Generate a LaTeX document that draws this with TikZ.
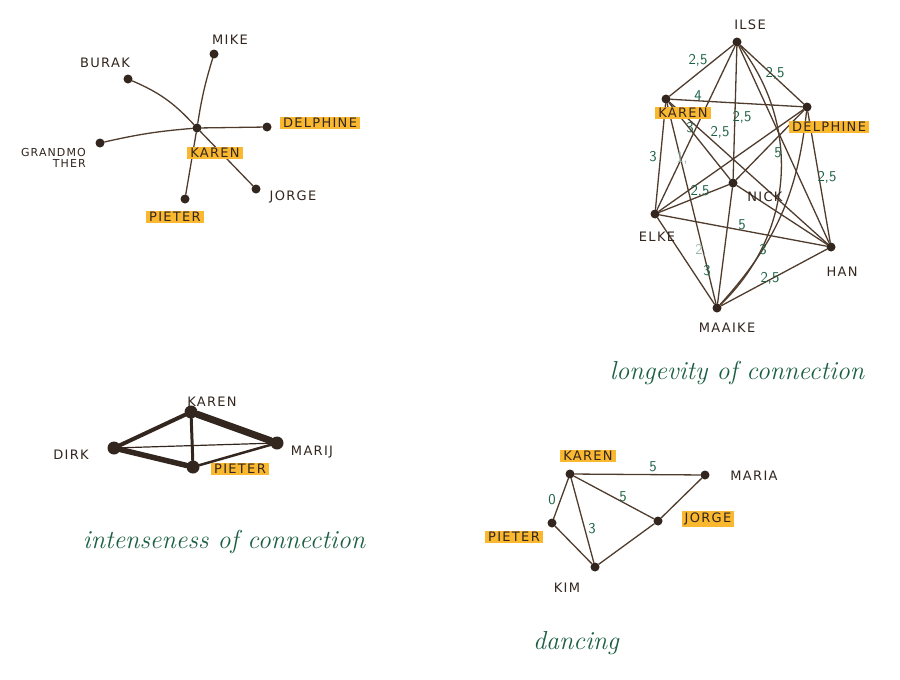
\documentclass[tikz,border=0pt]{standalone}
\usepackage{fontspec}
\usepackage{xcolor}
\usepackage{tikz}
\newfontfamily\namefont[LetterSpace=10]{DejaVu Sans}
\definecolor{ink}{RGB}{50,38,30}
\definecolor{penbrown}{RGB}{80,60,45}
\definecolor{inkgreen}{RGB}{28,96,68}
\definecolor{marker}{RGB}{250,184,48}

\begin{document}
\begin{tikzpicture}[x = 1pt, y = -1pt,
		dot/.style = {circle, fill = ink, inner sep = 0pt, minimum size = 9pt},
		bigdot/.style = {circle, fill = ink, inner sep = 0pt, minimum size = 13pt},
		person/.style = {text = ink, inner sep = 1pt, font = \namefont\fontsize{13}{14}\selectfont},
		hl/.style = {person, fill = marker, inner xsep = 3pt, inner ysep = 1.5pt},
		wt/.style = {text = inkgreen, inner sep = 0pt, font = \sffamily\fontsize{15}{16}\selectfont},
		faint/.style = {wt, text = inkgreen!45},
		title/.style = {text = inkgreen, font = \itshape\fontsize{26}{30}\selectfont},
		line/.style = {draw = penbrown, line width = 1.3pt, line cap = round},
		heavy/.style = {line, draw = ink}]
		\useasboundingbox[fill = white] (0,0) rectangle (900,680);

		% star around karen
		\node (k1) at (197,128) [dot] {};
		\node (mike) at (214,54) [dot] {};
		\node (burak) at (128,79) [dot] {};
		\node (delph1) at (267,127) [dot] {};
		\node (grand) at (100,143) [dot] {};
		\node (jorge1) at (256,189) [dot] {};
		\node (piet1) at (185,199) [dot] {};
		\draw[line] (burak) edge[bend left = 12] (k1);
		\draw[line] (mike) edge[bend right = 4] (k1);
		\draw[line] (k1) edge (delph1);
		\draw[line] (grand) edge[bend left = 4] (k1);
		\draw[line] (k1) edge (jorge1);
		\draw[line] (k1) edge (piet1);
		\node (k1l) at (215,153) [hl] {KAREN};
		\node (mikel) at (230,40) [person] {MIKE};
		\node (burakl) at (105,63) [person] {BURAK};
		\node (delph1l) at (320,123) [hl] {DELPHINE};
		\node (grandl) at (87,158) [person, anchor = east, align = right, font = \namefont\fontsize{11}{11}\selectfont] {GRANDMO\\THER};
		\node (jorge1l) at (293,197) [person] {JORGE};
		\node (piet1l) at (175,217) [hl] {PIETER};

		% longevity
		\node (ilse) at (737,42) [dot] {};
		\node (k2) at (666,99) [dot] {};
		\node (delph2) at (807,107) [dot] {};
		\node (nick) at (733,183) [dot] {};
		\node (elke) at (655,214) [dot] {};
		\node (han) at (831,247) [dot] {};
		\node (maaike) at (717,308) [dot] {};
		\draw[line] (ilse) edge (k2);
		\draw[line] (ilse) edge (delph2);
		\draw[line] (ilse) edge (nick);
		\draw[line] (ilse) edge (elke);
		\draw[line] (ilse) edge (han);
		\draw[line] (ilse) edge[bend left = 42] (maaike);
		\draw[line] (k2) edge (delph2);
		\draw[line] (k2) edge (nick);
		\draw[line] (k2) edge (elke);
		\draw[line] (k2) edge (han);
		\draw[line] (k2) edge (maaike);
		\draw[line] (delph2) edge (nick);
		\draw[line] (delph2) edge (elke);
		\draw[line] (delph2) edge (han);
		\draw[line] (delph2) edge[bend left = 18] (maaike);
		\draw[line] (nick) edge (elke);
		\draw[line] (nick) edge (han);
		\draw[line] (nick) edge (maaike);
		\draw[line] (elke) edge (han);
		\draw[line] (elke) edge (maaike);
		\draw[line] (han) edge (maaike);
		\node (ilsel) at (750,25) [person] {ILSE};
		\node (k2l) at (683,113) [hl] {KAREN};
		\node (delph2l) at (829,127) [hl] {DELPHINE};
		\node (nickl) at (765,197) [person] {NICK};
		\node (elkel) at (657,237) [person] {ELKE};
		\node (hanl) at (842,272) [person] {HAN};
		\node (maaikel) at (727,328) [person] {MAAIKE};
		\node (w1) at (698,60) [wt] {2,5};
		\node (w2) at (775,73) [wt] {2,5};
		\node (w3) at (698,96) [wt] {4};
		\node (w4) at (742,117) [wt] {2,5};
		\node (w5) at (690,128) [wt] {3};
		\node (w6) at (720,132) [wt] {2,5};
		\node (w7) at (778,153) [wt] {5};
		\node (w8) at (653,157) [wt] {3};
		\node (w9) at (682,158) [faint] {1,};
		\node (w10) at (827,177) [wt] {2,5};
		\node (w11) at (700,191) [wt] {2,5};
		\node (w12) at (742,225) [wt] {5};
		\node (w13) at (701,250) [faint] {2,};
		\node (w14) at (707,271) [wt] {3};
		\node (w15) at (763,250) [wt] {3};
		\node (w16) at (770,278) [wt] {2,5};
		\node (t1) at (737,373) [title] {longevity of connection};

		% intenseness
		\node (k3) at (191,412) [bigdot] {};
		\node (dirk) at (114,448) [bigdot] {};
		\node (marij) at (277,443) [bigdot] {};
		\node (piet3) at (193,467) [bigdot] {};
		\draw[heavy, line width = 7pt] (k3) edge (marij);
		\draw[heavy, line width = 5.5pt] (dirk) edge (piet3);
		\draw[heavy, line width = 4pt] (k3) edge (dirk);
		\draw[heavy, line width = 3pt] (k3) edge (piet3);
		\draw[heavy, line width = 2.5pt] (piet3) edge (marij);
		\draw[heavy, line width = 1.2pt] (dirk) edge (marij);
		\node (k3l) at (212,402) [person] {KAREN};
		\node (dirkl) at (71,455) [person] {DIRK};
		\node (marijl) at (312,452) [person] {MARIJ};
		\node (piet3l) at (240,469) [hl] {PIETER};
		\node (t2) at (224,542) [title] {intenseness of connection};

		% dancing
		\node (k4) at (570,474) [dot] {};
		\node (maria) at (705,475) [dot] {};
		\node (jorge2) at (658,521) [dot] {};
		\node (piet4) at (552,523) [dot] {};
		\node (kim) at (595,567) [dot] {};
		\draw[line] (k4) edge (maria);
		\draw[line] (k4) edge (jorge2);
		\draw[line] (k4) edge (piet4);
		\draw[line] (k4) edge (kim);
		\draw[line] (piet4) edge (kim);
		\draw[line] (kim) edge (jorge2);
		\draw[line] (jorge2) edge (maria);
		\node (k4l) at (588,456) [hl] {KAREN};
		\node (marial) at (754,476) [person] {MARIA};
		\node (jorge2l) at (708,519) [hl] {JORGE};
		\node (piet4l) at (514,537) [hl] {PIETER};
		\node (kiml) at (567,588) [person] {KIM};
		\node (d1) at (653,467) [wt] {5};
		\node (d2) at (623,497) [wt] {5};
		\node (d3) at (552,500) [wt] {0};
		\node (d4) at (592,529) [wt] {3};
		\node (t3) at (576,643) [title] {dancing};
\end{tikzpicture}
\end{document}
